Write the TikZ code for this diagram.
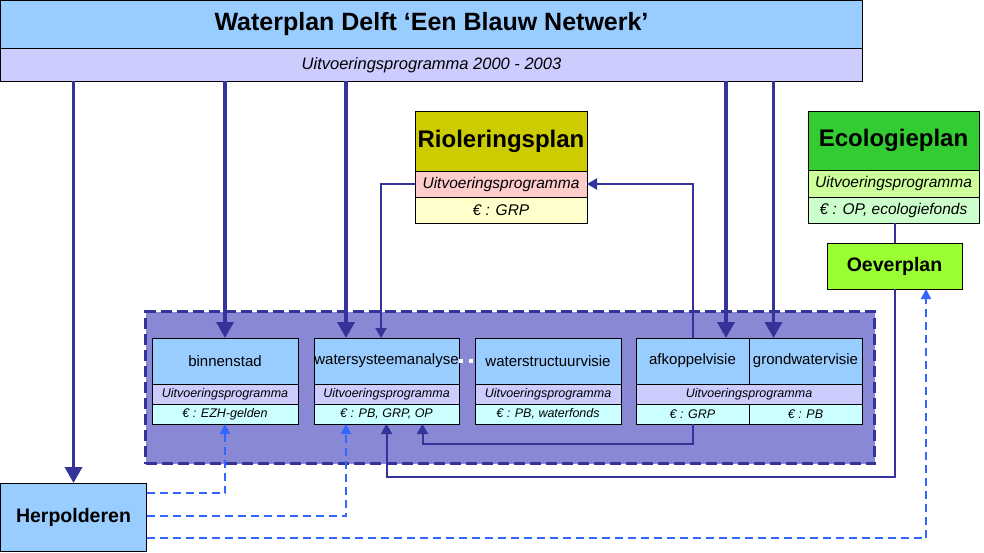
\documentclass[tikz,border=0pt]{standalone}
\usepackage{fontspec}
\setmainfont{Liberation Sans}
\usetikzlibrary{arrows.meta,calc}
\definecolor{tblue}{HTML}{99CCFF}
\definecolor{tlav}{HTML}{CCCCFF}
\definecolor{tcyan}{HTML}{CCFFFF}
\definecolor{rolive}{HTML}{CCCC00}
\definecolor{rpink}{HTML}{FFCCCC}
\definecolor{rcream}{HTML}{FFFFCC}
\definecolor{egreen}{HTML}{33CC33}
\definecolor{elime}{HTML}{CCFF99}
\definecolor{emint}{HTML}{CCFFCC}
\definecolor{ogreen}{HTML}{99FF33}
\definecolor{navy}{HTML}{333399}
\definecolor{dblue}{HTML}{3366FF}
\definecolor{grpfill}{RGB}{136,136,212}
\begin{document}
\begin{tikzpicture}[x=1pt,y=-1pt,
 box/.style={draw=black,line width=0.9pt,inner sep=0pt,outer sep=0pt,anchor=north west,align=center},
 thickarrow/.style={draw=navy,line width=3.5pt,-{Triangle[length=16pt,width=17pt]}},
 thinlink/.style={draw=navy,line width=2pt},
 thinarrow/.style={thinlink,-{Triangle[length=10pt,width=11pt]}},
 dasharrow/.style={draw=dblue,line width=2pt,dash pattern=on 8pt off 5pt,-{Triangle[length=10pt,width=10pt]}},
 bigT/.style={font=\fontsize{25}{29}\selectfont\bfseries},
 planT/.style={font=\fontsize{24}{28}\selectfont\bfseries},
 midT/.style={font=\fontsize{19.5}{23}\selectfont\bfseries},
 subT/.style={font=\fontsize{16.5}{19}\selectfont\itshape},
 bandM/.style={font=\fontsize{15.5}{18}\selectfont\itshape},
 boxT/.style={font=\fontsize{15}{18}\selectfont},
 bandT/.style={font=\fontsize{12.5}{14}\selectfont\itshape},
]
\fill[white] (0,0) rectangle (984,553);
\useasboundingbox (0,0) rectangle (984,553);

% main title
\node[box,fill=tblue,minimum width=862pt,minimum height=48pt,bigT] (title) at (0.5,0.5) {Waterplan Delft ‘Een Blauw Netwerk’};
\node[box,fill=tlav,minimum width=862pt,minimum height=33pt,subT] (titleU) at (0.5,48.5) {Uitvoeringsprogramma 2000 - 2003};

% Rioleringsplan
\node[box,fill=rolive,minimum width=172pt,minimum height=60pt,planT] (rio) at (415,111) {Rioleringsplan};
\node[box,fill=rpink,minimum width=172pt,minimum height=26pt,bandM] (rioU) at (415,171) {Uitvoeringsprogramma};
\node[box,fill=rcream,minimum width=172pt,minimum height=26pt,bandM] (rioE) at (415,197) {€ : GRP};

% Ecologieplan
\node[box,fill=egreen,minimum width=171pt,minimum height=59pt,planT] (eco) at (808,111) {Ecologieplan};
\node[box,fill=elime,minimum width=171pt,minimum height=27pt,bandM] (ecoU) at (808,170) {Uitvoeringsprogramma};
\node[box,fill=emint,minimum width=171pt,minimum height=26pt,bandM] (ecoE) at (808,197) {€ : OP, ecologiefonds};

% Oeverplan
\node[box,fill=ogreen,minimum width=135pt,minimum height=46pt,midT] (oever) at (827,243) {Oeverplan};

% Herpolderen
\node[box,fill=tblue,minimum width=146pt,minimum height=68pt,midT] (herp) at (0.5,483) {Herpolderen};

% group
\node[draw=navy,line width=3pt,dash pattern=on 11pt off 5pt,fill=grpfill,anchor=north west,inner sep=0pt,minimum width=729pt,minimum height=152pt] (grp) at (144,310) {};

% binnenstad
\node[box,fill=tblue,minimum width=146pt,minimum height=46pt,boxT] (binT) at (152,338) {binnenstad};
\node[box,fill=tlav,minimum width=146pt,minimum height=20pt,bandT] (binU) at (152,384) {Uitvoeringsprogramma};
\node[box,fill=tcyan,minimum width=146pt,minimum height=20pt,bandT] (binE) at (152,404) {€ : EZH-gelden};

% watersysteemanalyse
\node[box,fill=tblue,minimum width=145pt,minimum height=46pt,boxT] (wsT) at (314,338) {watersysteemanalyse};
\node[box,fill=tlav,minimum width=145pt,minimum height=20pt,bandT] (wsU) at (314,384) {Uitvoeringsprogramma};
\node[box,fill=tcyan,minimum width=145pt,minimum height=20pt,bandT] (wsE) at (314,404) {€ : PB, GRP, OP};

% waterstructuurvisie
\node[box,fill=tblue,minimum width=146pt,minimum height=46pt,boxT] (wvT) at (475,338) {waterstructuurvisie};
\node[box,fill=tlav,minimum width=146pt,minimum height=20pt,bandT] (wvU) at (475,384) {Uitvoeringsprogramma};
\node[box,fill=tcyan,minimum width=146pt,minimum height=20pt,bandT] (wvE) at (475,404) {€ : PB, waterfonds};

% afkoppelvisie / grondwatervisie
\node[box,fill=tblue,minimum width=113pt,minimum height=46pt,boxT] (afkT) at (636,338) {afkoppelvisie};
\node[box,fill=tblue,minimum width=113pt,minimum height=46pt,boxT] (grT) at (749,338) {grondwatervisie};
\node[box,fill=tlav,minimum width=226pt,minimum height=20pt,bandT] (agU) at (636,384) {Uitvoeringsprogramma};
\node[box,fill=tcyan,minimum width=113pt,minimum height=20pt,bandT] (afkE) at (636,404) {€ : GRP};
\node[box,fill=tcyan,minimum width=113pt,minimum height=20pt,bandT] (grE) at (749,404) {€ : PB};

% connector end points
\coordinate (wsIn) at ([xshift=-40.5pt]wsT.north);
\coordinate (wsRio) at ([xshift=-5.5pt]wsT.north);
\coordinate (afkIn) at ([xshift=33.5pt]afkT.north);
\coordinate (grIn) at ([xshift=-32pt]grT.north);
\coordinate (wsAfk) at ([xshift=36pt]wsE.south);
\coordinate (wsHerp) at ([xshift=-40.5pt]wsE.south);
\coordinate (oevHerp) at ([xshift=31.5pt]oever.south);
\coordinate (lowA) at (0,444);
\coordinate (lowB) at (0,477);
\coordinate (hA) at (0,493);
\coordinate (hB) at (0,516);
\coordinate (hC) at (0,538);

% white dotted link
\draw[white,line width=4pt,dash pattern=on 4pt off 6pt] (wsT.east) -- (wvT.west);

% thick arrows from title
\draw[thickarrow] (titleU.south -| herp.north) -- (herp.north);
\draw[thickarrow] (titleU.south -| binT.north) -- (binT.north);
\draw[thickarrow] (titleU.south -| wsIn) -- (wsIn);
\draw[thickarrow] (titleU.south -| afkIn) -- (afkIn);
\draw[thickarrow] (titleU.south -| grIn) -- (grIn);

% thin links
\draw[thinarrow] (rioU.west) -| (wsRio);
\draw[thinarrow] (afkT.north) |- (rioU.east);
\draw[thinlink] (ecoE.south -| oever.north) -- (oever.north);
\draw[thinarrow] (oever.south) -- (oever.south |- lowB) -| (wsE.south);
\draw[thinarrow] (afkE.south) -- (afkE.south |- lowA) -| (wsAfk);

% dashed links from Herpolderen
\draw[dasharrow] (herp.east |- hA) -| (binE.south);
\draw[dasharrow] (herp.east |- hB) -| (wsHerp);
\draw[dasharrow] (herp.east |- hC) -| (oevHerp);
\end{tikzpicture}
\end{document}
